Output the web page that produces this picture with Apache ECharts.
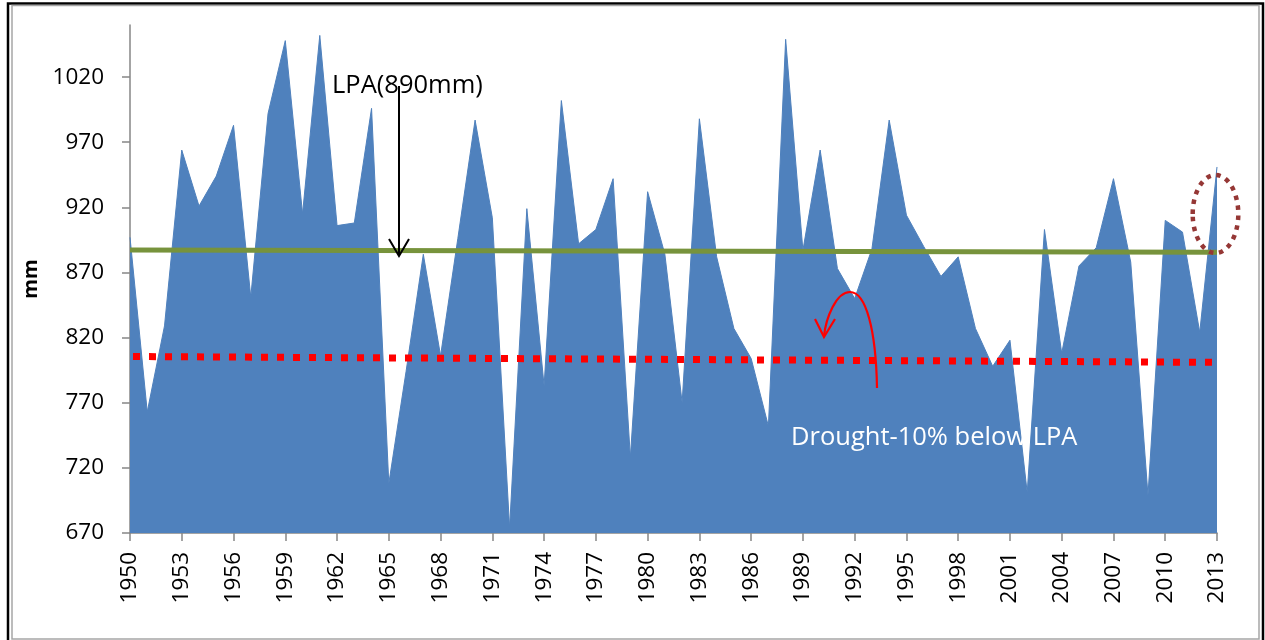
<!DOCTYPE html>
<html>
<head>
<meta charset="utf-8">
<script src="https://cdn.jsdelivr.net/npm/echarts@6/dist/echarts.min.js"></script>
<style>
  html, body { margin: 0; padding: 0; background: #fff; }
  #chart { width: 1265px; height: 640px; }
</style>
</head>
<body>
<div id="chart"></div>
<script>
// 年份
const years = [
  '1950','1951','1952','1953','1954','1955','1956','1957','1958','1959',
  '1960','1961','1962','1963','1964','1965','1966','1967','1968','1969',
  '1970','1971','1972','1973','1974','1975','1976','1977','1978','1979',
  '1980','1981','1982','1983','1984','1985','1986','1987','1988','1989',
  '1990','1991','1992','1993','1994','1995','1996','1997','1998','1999',
  '2000','2001','2002','2003','2004','2005','2006','2007','2008','2009',
  '2010','2011','2012','2013'
];
// rainfall (mm)
const rainfall = [
  897, 763, 829, 964, 921, 944, 983, 851, 992, 1048,
  915, 1052, 906, 908, 996, 708, 794, 884, 806, 896,
  987, 912, 674, 919, 783, 1002, 892, 903, 942, 728,
  932, 884, 770, 988, 882, 827, 804, 752, 1049, 887,
  964, 873, 850, 888, 987, 914, 890, 867, 882, 827,
  798, 818, 701, 903, 808, 875, 889, 942, 878, 699,
  910, 901, 824, 951
];
// trend lines: [value at 1950, value at 2013]
const lpaTrend = [887.3, 885.5];
const droughtTrend = [805.5, 801];
// y tick labels
const yTicks = [670, 720, 770, 820, 870, 920, 970, 1020];

const font = '"Open Sans", "Noto Sans", sans-serif';

const myChart = echarts.init(document.getElementById('chart'));

const option = {
  animation: false,
  backgroundColor: '#ffffff',
  grid: { left: 130, right: 48, top: 25, bottom: 107, containLabel: false },
  xAxis: {
    type: 'category',
    data: years,
    boundaryGap: false,
    axisLine: { lineStyle: { color: '#868686', width: 1.5 } },
    axisTick: { interval: 2, length: 8, lineStyle: { color: '#868686', width: 1.5 } },
    axisLabel: {
      interval: 2, rotate: 90, margin: 19,
      color: '#000', fontSize: 22.5, fontFamily: font
    },
    splitLine: { show: false }
  },
  yAxis: {
    type: 'value',
    min: 670,
    max: 1060,
    name: 'mm',
    nameLocation: 'middle',
    nameRotate: 90,
    nameGap: 84,
    nameTextStyle: { color: '#000', fontSize: 20, fontWeight: 'bold', fontFamily: font },
    axisLine: { show: true, lineStyle: { color: '#868686', width: 1.5 } },
    axisTick: { show: true, length: 8, customValues: yTicks, lineStyle: { color: '#868686', width: 1.5 } },
    axisLabel: {
      customValues: yTicks, margin: 26, color: '#000', fontSize: 22.5, fontFamily: font,
      formatter: function (v) { return String(v); }
    },
    splitLine: { show: false }
  },
  series: [
    {
      type: 'line',
      data: rainfall,
      symbol: 'none',
      lineStyle: { width: 1, color: '#4F81BD' },
      areaStyle: { color: '#4F81BD', opacity: 1, origin: 'start' },
      markLine: {
        silent: true,
        symbol: 'none',
        label: { show: false },
        data: [
          [
            { coord: [years[0], lpaTrend[0]], lineStyle: { color: '#77933C', width: 5, type: 'solid' } },
            { coord: [years[years.length - 1], lpaTrend[1]] }
          ],
          [
            { coord: [years[0], droughtTrend[0]], lineStyle: { color: '#FF0000', width: 7, type: [7, 9], dashOffset: -3, cap: 'butt' } },
            { coord: [years[years.length - 1], droughtTrend[1]] }
          ]
        ]
      }
    }
  ],
  graphic: [
    // outer frame
    { type: 'rect', z: 100, shape: { x: 8, y: 3.5, width: 1255, height: 640 },
      style: { fill: 'none', stroke: '#000', lineWidth: 2.5 } },
    { type: 'rect', z: 100, shape: { x: 12, y: 5.5, width: 1247, height: 633.5 },
      style: { fill: 'none', stroke: '#A6A6A6', lineWidth: 1.5 } },
    // LPA label + arrow
    { type: 'text', z: 100, style: { x: 332, y: 85.5, text: 'LPA(890mm)', fill: '#000',
      font: '25.5px ' + font, verticalAlign: 'middle' } },
    { type: 'line', z: 100, shape: { x1: 399, y1: 86, x2: 399, y2: 255 },
      style: { stroke: '#000', lineWidth: 2 } },
    { type: 'polyline', z: 100, shape: { points: [[389, 239], [399, 256], [409, 239]] },
      style: { stroke: '#000', lineWidth: 2, fill: 'none' } },
    // drought label
    { type: 'text', z: 100, style: { x: 791, y: 437.5, text: 'Drought-10% below LPA', fill: '#fff',
      font: '25.5px ' + font, verticalAlign: 'middle' } },
    // red curved arrow
    { type: 'bezierCurve', z: 100,
      shape: { x1: 877, y1: 388, cpx1: 876, cpy1: 330, cpx2: 866, cpy2: 292, x2: 850, y2: 292 },
      style: { stroke: '#FF0000', lineWidth: 2.2, fill: 'none' } },
    { type: 'bezierCurve', z: 100,
      shape: { x1: 850, y1: 292, cpx1: 836, cpy1: 292, cpx2: 826, cpy2: 318, x2: 824, y2: 336 },
      style: { stroke: '#FF0000', lineWidth: 2.2, fill: 'none' } },
    { type: 'polyline', z: 100, shape: { points: [[815, 319], [824, 337], [835, 319]] },
      style: { stroke: '#FF0000', lineWidth: 2.2, fill: 'none' } },
    // dotted ellipse round 2013
    { type: 'ellipse', z: 100, shape: { cx: 1215.5, cy: 214, rx: 22.8, ry: 39 },
      style: { fill: 'none', stroke: '#953735', lineWidth: 4.5, lineDash: [4.5, 5.5] } }
  ]
};

myChart.setOption(option);
</script>
</body>
</html>
